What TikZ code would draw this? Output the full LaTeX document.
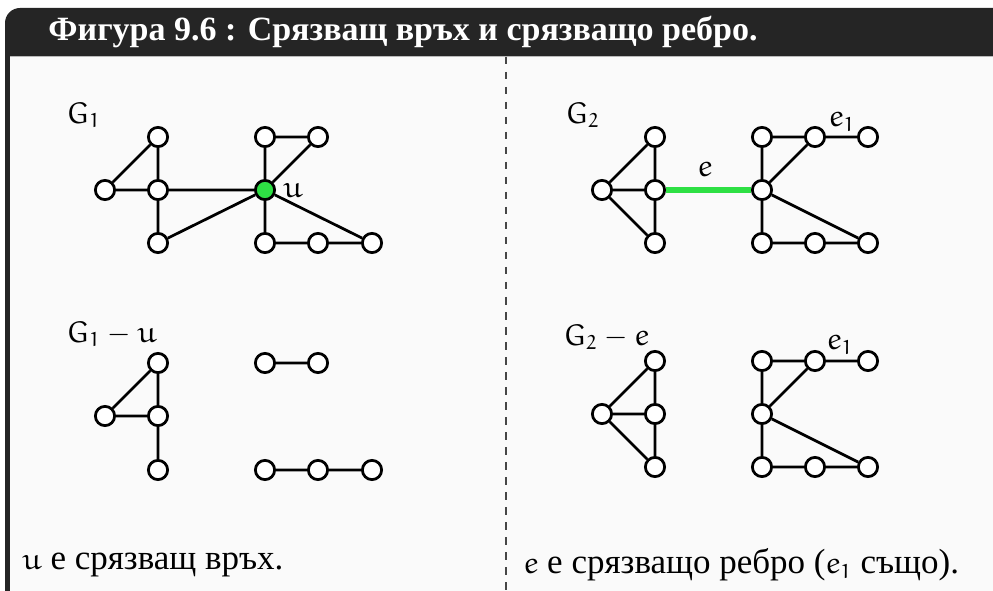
\documentclass[tikz,border=0pt]{standalone}
\usepackage[no-math]{fontspec}
\setmainfont{Liberation Serif}
\DeclareMathAlphabet{\mathEu}{U}{eur}{m}{n}
\newcommand{\eu}[1]{\ensuremath{\mathEu{#1}}}
\definecolor{titlec}{HTML}{252525}
\definecolor{bodyc}{HTML}{FAFAFA}
\definecolor{hlgreen}{HTML}{2EE044}
\tikzset{
  vtx/.style={circle,draw=black,fill=white,line width=1.1pt,minimum size=7.7pt,inner sep=0pt},
  hot/.style={vtx,fill=hlgreen},
  edge/.style={line width=1.1pt,black},
  hledge/.style={line width=2.3pt,hlgreen},
  lbl/.style={inner sep=0pt,font=\fontsize{12}{14}\selectfont},
  txt/.style={anchor=west,inner sep=0pt,font=\fontsize{14}{16}\selectfont},
}
\begin{document}
\begin{tikzpicture}[x=0.4pt,y=-0.4pt]
\useasboundingbox (0,0) rectangle (993,591);
\clip (0,0) rectangle (993,591);
% frame
\fill[titlec,rounded corners=6] (5,640) -- (5,8) -- (1020,8) -- (1020,640) -- cycle;
\fill[bodyc] (10,56) rectangle (1020,640);
\draw[gray!55,line width=0.5pt] (10,56.6) -- (1020,56.6);
\node[anchor=west,inner sep=0pt,text=white,font=\fontsize{13.6}{16}\selectfont\bfseries] (title) at (48,32) {Фигура 9.6 : Срязващ връх и срязващо ребро.};
\coordinate (dtop) at (506,57);
\coordinate (dbot) at (506,600);
\draw[titlec!85,line width=0.45pt,dash pattern=on 3pt off 3pt] (dtop) -- (dbot);

% ---------- G1 ----------
\node[lbl,anchor=west] (lg1) at (66,115) {$\mathEu{G}_{\mathEu{1}}$};
\node[vtx] (a1) at (158,137) {};
\node[vtx] (a2) at (105,190) {};
\node[vtx] (a3) at (158,190) {};
\node[vtx] (a4) at (158,243) {};
\node[hot] (u) at (265,190) {};
\node[vtx] (b1) at (265,137) {};
\node[vtx] (b2) at (318,137) {};
\node[vtx] (b3) at (265,243) {};
\node[vtx] (b4) at (318,243) {};
\node[vtx] (b5) at (372,243) {};
\node[lbl] (ul) at (293,191) {\eu{u}};
\draw[edge] (a2) -- (a1) (a2) -- (a3) (a1) -- (a3) (a3) -- (a4) (a3) -- (u) (a4) -- (u)
  (u) -- (b1) (u) -- (b2) (b1) -- (b2) (u) -- (b3) (u) -- (b5) (b3) -- (b4) (b4) -- (b5);

% ---------- G1 - u ----------
\node[lbl,anchor=west] (lg1u) at (66,334) {$\mathEu{G}_{\mathEu{1}} - \mathEu{u}$};
\node[vtx] (c1) at (158,363) {};
\node[vtx] (c2) at (105,416) {};
\node[vtx] (c3) at (158,416) {};
\node[vtx] (c4) at (158,470) {};
\node[vtx] (d1) at (265,363) {};
\node[vtx] (d2) at (318,363) {};
\node[vtx] (d3) at (265,470) {};
\node[vtx] (d4) at (318,470) {};
\node[vtx] (d5) at (372,470) {};
\draw[edge] (c2) -- (c1) (c2) -- (c3) (c1) -- (c3) (c3) -- (c4)
  (d1) -- (d2) (d3) -- (d4) (d4) -- (d5);

% ---------- G2 ----------
\node[lbl,anchor=west] (lg2) at (565,115) {$\mathEu{G}_{\mathEu{2}}$};
\node[vtx] (p1) at (655,137) {};
\node[vtx] (p2) at (602,190) {};
\node[vtx] (p3) at (655,190) {};
\node[vtx] (p4) at (655,243) {};
\node[vtx] (h) at (762,190) {};
\node[vtx] (q1) at (762,137) {};
\node[vtx] (q2) at (815,137) {};
\node[vtx] (q3) at (868,137) {};
\node[vtx] (q4) at (762,243) {};
\node[vtx] (q5) at (815,243) {};
\node[vtx] (q6) at (868,243) {};
\draw[hledge] (p3) -- (h);
\node[lbl] (el) at (705,170) {\eu{e}};
\node[lbl] (e1a) at (842,122) {$\mathEu{e}_{\mathEu{1}}$};
\draw[edge] (p2) -- (p1) (p2) -- (p3) (p2) -- (p4) (p1) -- (p3) (p3) -- (p4)
  (h) -- (q1) (h) -- (q2) (q1) -- (q2) (q2) -- (q3) (h) -- (q4) (h) -- (q6)
  (q4) -- (q5) (q5) -- (q6);

% ---------- G2 - e ----------
\node[lbl,anchor=west] (lg2e) at (563,337) {$\mathEu{G}_{\mathEu{2}} - \mathEu{e}$};
\node[vtx] (r1) at (655,361) {};
\node[vtx] (r2) at (602,414) {};
\node[vtx] (r3) at (655,414) {};
\node[vtx] (r4) at (655,467) {};
\node[vtx] (s0) at (762,414) {};
\node[vtx] (s1) at (762,361) {};
\node[vtx] (s2) at (815,361) {};
\node[vtx] (s3) at (868,361) {};
\node[vtx] (s4) at (762,467) {};
\node[vtx] (s5) at (815,467) {};
\node[vtx] (s6) at (868,467) {};
\node[lbl] (e1b) at (840,345) {$\mathEu{e}_{\mathEu{1}}$};
\draw[edge] (r2) -- (r1) (r2) -- (r3) (r2) -- (r4) (r1) -- (r3) (r3) -- (r4)
  (s0) -- (s1) (s0) -- (s2) (s1) -- (s2) (s2) -- (s3) (s0) -- (s4) (s0) -- (s6)
  (s4) -- (s5) (s5) -- (s6);

% ---------- captions ----------
\node[txt] (capl) at (22,565) {{\fontsize{12}{14}\selectfont\eu{u}} е срязващ връх.};
\node[txt] (capr) at (523,565) {{\fontsize{12}{14}\selectfont\eu{e}} е срязващо ребро ({\fontsize{12}{14}\selectfont$\mathEu{e}_{\mathEu{1}}$} също).};
\end{tikzpicture}
\end{document}
